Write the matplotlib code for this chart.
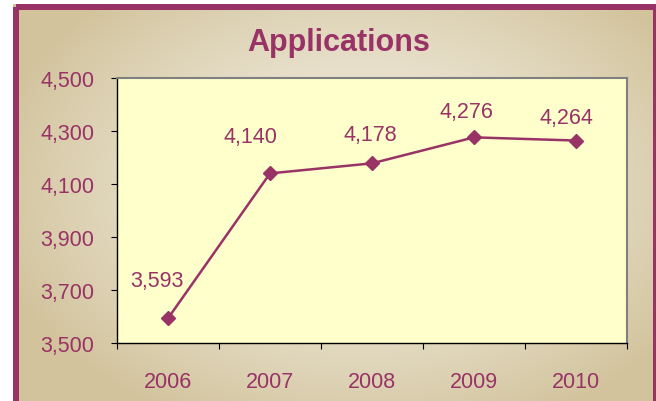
import numpy as np
import matplotlib
matplotlib.use("Agg")
import matplotlib.pyplot as plt
from matplotlib.patches import Rectangle

# chart data
years = ["2006", "2007", "2008", "2009", "2010"]
applications = [3593, 4140, 4178, 4276, 4264]
y_ticks = [3500, 3700, 3900, 4100, 4300, 4500]

# label nudges in pixels (as placed in the original)
label_dx = [-11, -20, -2, -8, -10]
label_dy = [38, 37, 29, 26, 23]

maroon = "#993366"
W, H = 656, 402
plt.rcParams["font.family"] = ["Liberation Sans", "DejaVu Sans"]

fig = plt.figure(figsize=(W / 100, H / 100), dpi=100)

# background with radial tan gradient and maroon frame
bg = fig.add_axes([0, 0, 1, 1])
bg.set_xlim(0, W)
bg.set_ylim(H, 0)
bg.axis("off")
xx, yy = np.meshgrid(np.arange(W), np.arange(H))
d = np.sqrt(((xx - 360) / 380.0) ** 2 + ((yy - 190) / 260.0) ** 2)
d = np.clip(d, 0, 1) ** 1.4
light = np.array([242, 238, 226]) / 255.0
tan = np.array([210, 195, 156]) / 255.0
img = light[None, None, :] * (1 - d[..., None]) + tan[None, None, :] * d[..., None]
img[(xx < 13) | (yy < 5)] = 1.0
bg.imshow(img, extent=(0, W, H, 0), aspect="auto", interpolation="bilinear")
bg.add_patch(Rectangle((16, 8), 640, 430, fill=False, edgecolor=maroon, lw=6 * 0.72))

# plot area
ax = fig.add_axes([117 / W, 1 - 344 / H, 510 / W, 265 / H])
ax.set_facecolor("#FFFFCC")
x = np.arange(len(years))
ax.plot(x, applications, color=maroon, lw=1.8, marker="D", ms=7,
        markerfacecolor=maroon, markeredgecolor=maroon, zorder=3)
for i, v in enumerate(applications):
    ax.annotate(f"{v:,}", (x[i], v), xytext=(label_dx[i] * 0.72, label_dy[i] * 0.72),
                textcoords="offset points", ha="center", va="center",
                color=maroon, fontsize=15.5)

ax.set_xlim(-0.5, len(years) - 0.5)
ax.set_ylim(y_ticks[0], y_ticks[-1])
ax.set_yticks(y_ticks)
ax.set_yticklabels([f"{t:,}" for t in y_ticks])
ax.set_xticks(np.arange(-0.5, len(years)), minor=False)
ax.set_xticklabels([])
ax.set_xticks(x, minor=True)
ax.set_xticklabels(years, minor=True)
ax.tick_params(axis="y", direction="out", length=4.3, width=0.8, color="black",
               labelcolor=maroon, labelsize=15.5, pad=12)
ax.tick_params(axis="x", which="major", direction="out", length=4.3, width=0.8, color="black")
ax.tick_params(axis="x", which="minor", length=0, labelcolor=maroon, labelsize=15.5, pad=20)
for side in ["top", "right"]:
    ax.spines[side].set_color("#808080")
    ax.spines[side].set_linewidth(1.5)
for side in ["left", "bottom"]:
    ax.spines[side].set_color("black")
    ax.spines[side].set_linewidth(1)

fig.text(339 / W, 1 - 43 / H, "Applications", ha="center", va="center",
         fontsize=22, fontweight="bold", color=maroon)

fig.savefig("out.png", dpi=100)
